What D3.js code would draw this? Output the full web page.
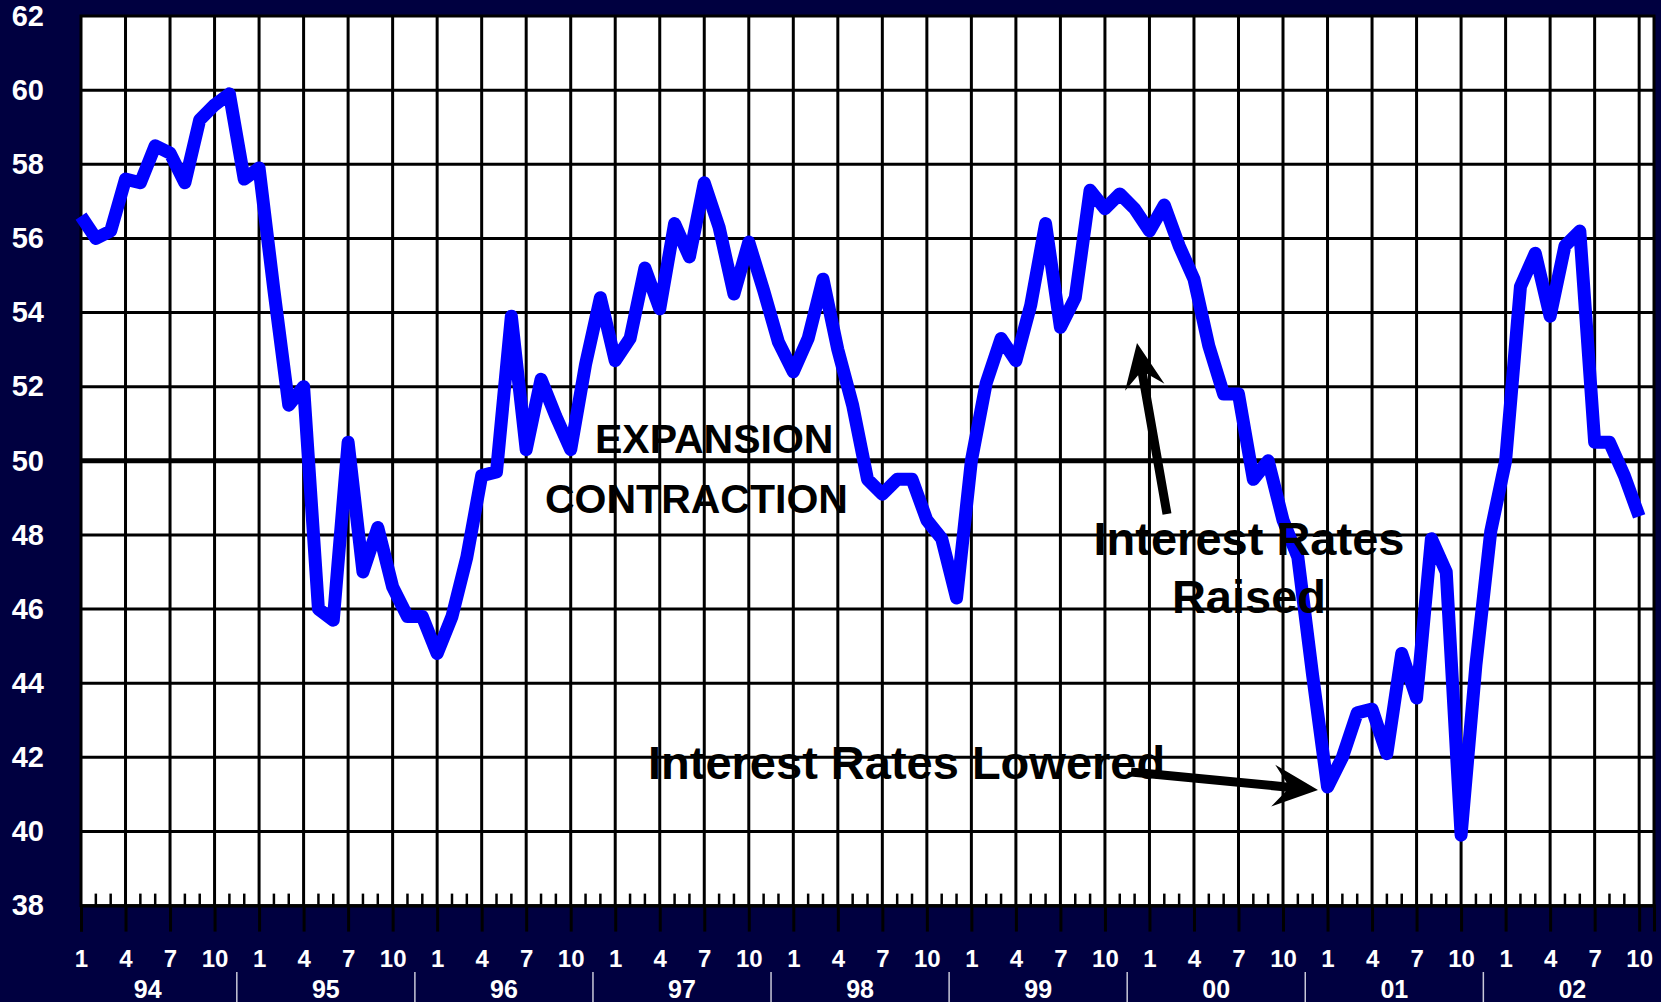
<!DOCTYPE html>
<html>
<head>
<meta charset="utf-8">
<script src="https://cdn.jsdelivr.net/npm/d3@7"></script>
<style>
  html, body { margin: 0; padding: 0; background: #000040; }
  svg { display: block; }
  text { font-family: "Liberation Sans", Arial, sans-serif; font-weight: bold; }
</style>
</head>
<body>
<svg id="chart" width="1661" height="1002"></svg>
<script>
// ---- data (monthly index values, Jan 1994 – Oct 2002) ----
const pmi1994 = [56.6, 56.0, 56.2, 57.6, 57.5, 58.5, 58.3, 57.5, 59.2, 59.6, 59.9, 57.6];
const pmi1995 = [57.9, 54.6, 51.5, 52.0, 46.0, 45.7, 50.5, 47.0, 48.2, 46.6, 45.8, 45.8];
const pmi1996 = [44.8, 45.8, 47.4, 49.6, 49.7, 53.9, 50.3, 52.2, 51.2, 50.3, 52.6, 54.4];
const pmi1997 = [52.7, 53.3, 55.2, 54.1, 56.4, 55.5, 57.5, 56.3, 54.5, 55.9, 54.6, 53.2];
const pmi1998 = [52.4, 53.3, 54.9, 53.0, 51.5, 49.5, 49.1, 49.5, 49.5, 48.4, 47.9, 46.3];
const pmi1999 = [50.0, 52.1, 53.3, 52.7, 54.2, 56.4, 53.6, 54.4, 57.3, 56.8, 57.2, 56.8];
const pmi2000 = [56.2, 56.9, 55.8, 54.9, 53.1, 51.8, 51.8, 49.5, 50.0, 48.4, 47.4, 44.2];
const pmi2001 = [41.2, 42.0, 43.2, 43.3, 42.1, 44.8, 43.6, 47.9, 47.0, 39.9, 44.5, 48.1];
const pmi2002 = [50.0, 54.7, 55.6, 53.9, 55.8, 56.2, 50.5, 50.5, 49.6, 48.5];

const yearLabels = ["94", "95", "96", "97", "98", "99", "00", "01", "02"];
const monthTickLabels = ["1", "4", "7", "10"];
const yTickValues = [38, 40, 42, 44, 46, 48, 50, 52, 54, 56, 58, 60, 62];

const values = [].concat(pmi1994, pmi1995, pmi1996, pmi1997, pmi1998, pmi1999, pmi2000, pmi2001, pmi2002);
const series = values.map((v, i) => ({ m: i, v: v }));

// ---- layout ----
const W = 1661, H = 1002;
const L = 81, R = 1654, T = 16, B = 905.6;
const svg = d3.select("#chart");

const x = d3.scaleLinear().domain([0, 106]).range([L, R]);
const y = d3.scaleLinear().domain([38, 62]).range([B, T]);

svg.append("rect").attr("width", W).attr("height", H).attr("fill", "#000040");
svg.append("rect").attr("x", L).attr("y", T).attr("width", R - L).attr("height", B - T).attr("fill", "#ffffff");

const nMonths = 106;
const majorMonths = d3.range(0, nMonths, 3);
const minorMonths = d3.range(0, nMonths).filter(m => m % 3 !== 0);

// horizontal gridlines
svg.append("g").selectAll("line").data(yTickValues.filter(v => v > 38 && v < 62)).join("line")
  .attr("x1", L).attr("x2", R)
  .attr("y1", d => y(d)).attr("y2", d => y(d))
  .attr("stroke", "#000").attr("stroke-width", d => d === 50 ? 5 : 3);

// vertical gridlines (quarters)
svg.append("g").selectAll("line").data(majorMonths.filter(m => m > 0)).join("line")
  .attr("x1", d => x(d)).attr("x2", d => x(d))
  .attr("y1", T).attr("y2", B)
  .attr("stroke", "#000").attr("stroke-width", 3);

// minor ticks
svg.append("g").selectAll("line").data(minorMonths).join("line")
  .attr("x1", d => x(d)).attr("x2", d => x(d))
  .attr("y1", B - 12).attr("y2", B)
  .attr("stroke", "#000").attr("stroke-width", 2.5);

// plot frame
svg.append("rect").attr("x", L).attr("y", T).attr("width", R - L).attr("height", B - T)
  .attr("fill", "none").attr("stroke", "#000").attr("stroke-width", 3);

// x axis (months)
const xAxis = d3.axisBottom(x)
  .tickValues(majorMonths)
  .tickSize(26)
  .tickPadding(18)
  .tickFormat(d => monthTickLabels[(d / 3) % 4]);
const gx = svg.append("g").attr("transform", `translate(0,${B})`).call(xAxis);
gx.select(".domain").attr("stroke", "#000").attr("stroke-width", 3);
gx.selectAll(".tick line").attr("stroke", "#000").attr("stroke-width", 3);
gx.selectAll(".tick text").attr("fill", "#fff").attr("font-size", 24)
  .attr("font-family", "Liberation Sans, Arial, sans-serif").attr("font-weight", "bold");

// year labels & separators
svg.append("g").selectAll("text").data(yearLabels).join("text")
  .attr("x", (d, i) => x(4.5 + 12 * i)).attr("y", 998)
  .attr("text-anchor", "middle").attr("fill", "#fff").attr("font-size", 25)
  .text(d => d);
svg.append("g").selectAll("line").data(d3.range(0, 8)).join("line")
  .attr("x1", i => x(10.5 + 12 * i)).attr("x2", i => x(10.5 + 12 * i))
  .attr("y1", 972).attr("y2", 1002)
  .attr("stroke", "#c8c8d8").attr("stroke-width", 1.5);

// y axis labels
const yAxis = d3.axisLeft(y).tickValues(yTickValues).tickSize(0).tickPadding(37);
const gy = svg.append("g").attr("transform", `translate(${L},0)`).call(yAxis);
gy.select(".domain").remove();
gy.selectAll(".tick text").attr("fill", "#fff").attr("font-size", 29)
  .attr("font-family", "Liberation Sans, Arial, sans-serif").attr("font-weight", "bold");

// data line
const line = d3.line().x(d => x(d.m)).y(d => y(d.v));
svg.append("path").datum(series)
  .attr("d", line)
  .attr("fill", "none").attr("stroke", "#0000ff").attr("stroke-width", 13)
  .attr("stroke-linejoin", "round").attr("stroke-linecap", "butt");

// annotations
function arrow(tail, tip, w, Lh, Hh, notch) {
  const dx = tip[0] - tail[0], dy = tip[1] - tail[1];
  const len = Math.hypot(dx, dy);
  const ux = dx / len, uy = dy / len, nx = -uy, ny = ux;
  const p = (along, off) => [tip[0] - ux * along + nx * off, tip[1] - uy * along + ny * off];
  const pts = [
    [tail[0] + nx * w / 2, tail[1] + ny * w / 2],
    p(Lh - notch, w / 2),
    p(Lh, Hh),
    tip,
    p(Lh, -Hh),
    p(Lh - notch, -w / 2),
    [tail[0] - nx * w / 2, tail[1] - ny * w / 2]
  ];
  svg.append("path").attr("d", "M" + pts.map(q => q.join(",")).join("L") + "Z").attr("fill", "#000");
}

const ann = svg.append("g").attr("fill", "#000");
ann.append("text").attr("x", 595).attr("y", 453).attr("font-size", 41).text("EXPANSION");
ann.append("text").attr("x", 545).attr("y", 513).attr("font-size", 41).text("CONTRACTION");
ann.append("text").attr("x", 1249).attr("y", 555).attr("font-size", 47).attr("text-anchor", "middle").text("Interest Rates");
ann.append("text").attr("x", 1249).attr("y", 613).attr("font-size", 47).attr("text-anchor", "middle").text("Raised");
ann.append("text").attr("x", 648).attr("y", 779).attr("font-size", 47).text("Interest Rates Lowered");

arrow([1167, 514], [1137, 343], 9, 45, 20, 13);
arrow([1131, 772], [1318, 790], 9, 45, 21, 13);
</script>
</body>
</html>
